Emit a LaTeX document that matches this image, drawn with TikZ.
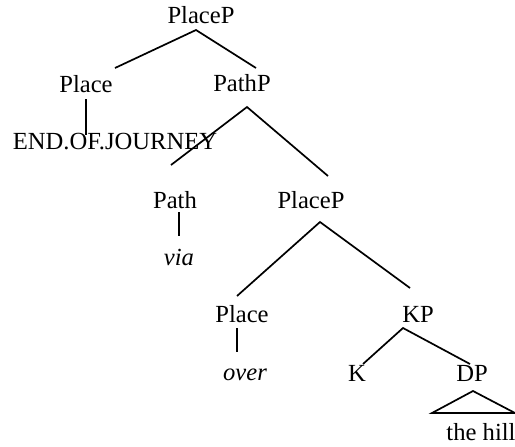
\documentclass[tikz,border=0pt]{standalone}
\usepackage{fontspec}
\setmainfont{Liberation Serif}
\begin{document}
\begin{tikzpicture}[x=0.5pt,y=-0.5pt,
  lab/.style={anchor=base,inner sep=0pt,font=\fontsize{12.3}{14}\selectfont},
  ilab/.style={lab,font=\fontsize{12.3}{14}\selectfont\itshape},
  br/.style={line width=0.85pt}]
\useasboundingbox (0,0) rectangle (515,446);
% nodes
\node[lab] (pp1) at (201,23) {PlaceP};
\node[lab] (pl1) at (86,92) {Place};
\node[lab] (pathp) at (242,91) {PathP};
\node[lab] (eoj) at (115,149) {END.OF.JOURNEY};
\node[lab] (path) at (175,208) {Path};
\node[lab] (pp2) at (311,208) {PlaceP};
\node[ilab] (via) at (179,265) {via};
\node[lab] (pl2) at (242,322) {Place};
\node[lab] (kp) at (418,322) {KP};
\node[ilab] (over) at (245,380) {over};
\node[lab] (k) at (357,381) {K};
\node[lab] (dp) at (472,381) {DP};
\node[lab] (hill) at (481,440) {the hill};
% connector ends
\coordinate (pp1-b) at (196,30);
\coordinate (pl1-t) at (115,68);
\coordinate (pathp-t) at (256,68);
\coordinate (pl1-b) at (86,99);
\coordinate (eoj-t) at (86,135);
\coordinate (pathp-b) at (247,107);
\coordinate (path-t) at (171,165);
\coordinate (pp2-t) at (328,176);
\coordinate (path-b) at (179,212);
\coordinate (via-t) at (179,236);
\coordinate (pp2-b) at (320,222);
\coordinate (pl2-t) at (237,296);
\coordinate (kp-t) at (410,288);
\coordinate (pl2-b) at (237,328);
\coordinate (over-t) at (237,352);
\coordinate (kp-b) at (403,328);
\coordinate (k-t) at (363,364);
\coordinate (dp-t) at (470,364);
\coordinate (dp-b) at (473,391);
\coordinate (tri-l) at (432,413);
\coordinate (tri-r) at (515,413);
% connectors
\draw[br] (pl1-t) -- (pp1-b) -- (pathp-t);
\draw[br] (pl1-b) -- (eoj-t);
\draw[br] (path-t) -- (pathp-b) -- (pp2-t);
\draw[br] (path-b) -- (via-t);
\draw[br] (pl2-t) -- (pp2-b) -- (kp-t);
\draw[br] (pl2-b) -- (over-t);
\draw[br] (k-t) -- (kp-b) -- (dp-t);
\draw[br] (dp-b) -- (tri-l) -- (tri-r) -- cycle;
\end{tikzpicture}
\end{document}
